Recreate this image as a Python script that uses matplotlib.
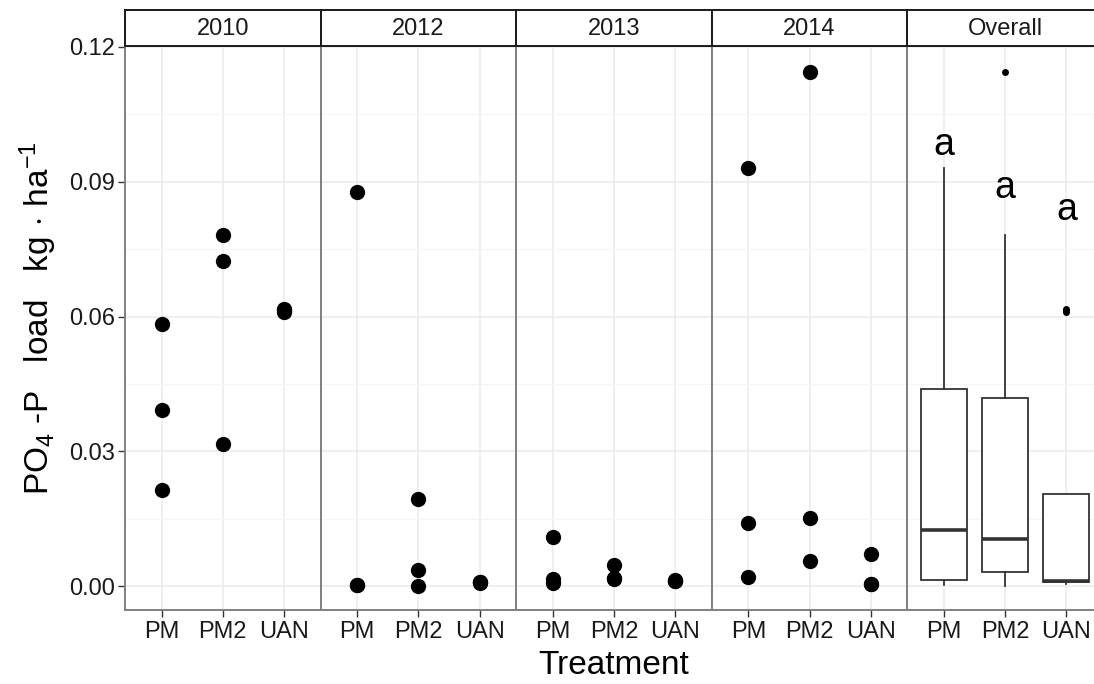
import numpy as np
import matplotlib
matplotlib.use("Agg")
import matplotlib.pyplot as plt

plt.rcParams["font.family"] = ["Liberation Sans", "DejaVu Sans"]
plt.rcParams["mathtext.fontset"] = "custom"
plt.rcParams["mathtext.rm"] = "Liberation Sans"
plt.rcParams["mathtext.it"] = "Liberation Sans:italic"

# -----------------------------
# Data (PO4-P load, kg/ha)
# -----------------------------
years = ["2010", "2012", "2013", "2014"]
treatments = ["PM", "PM2", "UAN"]

load_2010 = [[0.0583, 0.0391, 0.0215], [0.0781, 0.0723, 0.0317], [0.0617, 0.0614, 0.0609]]
load_2012 = [[0.0878, 0.0003, 0.0002], [0.0193, 0.0037, 0.0001], [0.0010, 0.0009, 0.0008]]
load_2013 = [[0.0110, 0.0017, 0.0006], [0.0048, 0.0019, 0.0015], [0.0013, 0.0012, 0.0011]]
load_2014 = [[0.0930, 0.0141, 0.0020], [0.1145, 0.0152, 0.0056], [0.0071, 0.0005, 0.0004]]
loads = [load_2010, load_2012, load_2013, load_2014]

letters = ["a", "a", "a"]
letter_y = [0.0981, 0.0886, 0.0837]

yticks = [0.00, 0.03, 0.06, 0.09, 0.12]
ymin, ymax = -0.0053, 0.1202

# -----------------------------
# Layout (pixels -> figure fraction)
# -----------------------------
W, H = 1094, 684
fig = plt.figure(figsize=(W / 100, H / 100), dpi=100)

left_px = 125
panel_w = 195.6
top_px = 46
bottom_px = 610
strip_top = 9.5

border_col = "#808080"
grid_col = "#EBEBEB"

panel_titles = years + ["Overall"]
axes = []
for i, title in enumerate(panel_titles):
    x0 = (left_px + i * panel_w) / W
    ax = fig.add_axes([x0, (H - bottom_px) / H, panel_w / W, (bottom_px - top_px) / H])
    axes.append(ax)

    ax.set_xlim(0.4, 3.6)
    ax.set_ylim(ymin, ymax)
    ax.set_xticks([1, 2, 3])
    ax.set_xticklabels(treatments)
    ax.set_yticks(yticks)
    ax.set_yticks([0.015, 0.045, 0.075, 0.105], minor=True)
    ax.grid(True, which="major", color=grid_col, lw=1.1, zorder=0)
    ax.grid(True, which="minor", axis="y", color="#F5F5F5", lw=0.8, zorder=0)
    ax.set_axisbelow(True)
    for s in ax.spines.values():
        s.set_color(border_col)
        s.set_linewidth(1.4)
    ax.tick_params(axis="x", length=5, width=1, color="#333333",
                   labelsize=17, labelcolor="#1A1A1A", pad=3)
    ax.tick_params(axis="y", which="both", length=0)
    if i == 0:
        ax.set_yticklabels(["0.00", "0.03", "0.06", "0.09", "0.12"])
        ax.tick_params(axis="y", which="major", length=5, width=1, color="#333333",
                       labelsize=17, labelcolor="#1A1A1A", pad=2)
    else:
        ax.set_yticklabels([])

    # strip
    sax = fig.add_axes([x0, (H - top_px) / H, panel_w / W, (top_px - strip_top) / H])
    sax.set_xticks([])
    sax.set_yticks([])
    sax.set_facecolor("white")
    for s in sax.spines.values():
        s.set_color("#1A1A1A")
        s.set_linewidth(1.4)
    sax.text(0.5, 0.47, title, ha="center", va="center", fontsize=17,
             color="#1A1A1A", transform=sax.transAxes)

# -----------------------------
# Year panels: points
# -----------------------------
for ax, load in zip(axes[:4], loads):
    for j, vals in enumerate(load):
        ax.plot([j + 1] * len(vals), vals, "o", color="black",
                markersize=11, markeredgewidth=0, zorder=3)

# -----------------------------
# Overall panel: boxplots
# -----------------------------
pooled = [np.concatenate([np.array(l[j]) for l in loads]) for j in range(3)]
ax = axes[4]
ax.boxplot(pooled, positions=[1, 2, 3], widths=0.75, showcaps=False,
           patch_artist=True,
           boxprops=dict(facecolor="white", edgecolor="#333333", linewidth=1.3),
           whiskerprops=dict(color="#333333", linewidth=1.3),
           medianprops=dict(color="#333333", linewidth=2.6),
           flierprops=dict(marker="o", markerfacecolor="black", markeredgewidth=0,
                           markersize=5),
           zorder=3)
ax.set_xticks([1, 2, 3])
ax.set_xticklabels(treatments)
ax.set_xlim(0.4, 3.6)

for j, (lab, yv) in enumerate(zip(letters, letter_y)):
    ax.text(j + 1, yv, lab, ha="center", va="center", fontsize=27, color="black", zorder=4)

# -----------------------------
# Axis titles
# -----------------------------
fig.text(38 / W, 1 - 318 / H, r"PO$_4$ -P   load   kg$\,\cdot\,$ha$^{-1}$",
         rotation=90, ha="center", va="center", fontsize=24, color="black")
fig.text((left_px + 2.5 * panel_w) / W, 1 - 665 / H, "Treatment",
         ha="center", va="center", fontsize=24, color="black")

fig.savefig("out.png", dpi=100, facecolor="white")
plt.close(fig)
